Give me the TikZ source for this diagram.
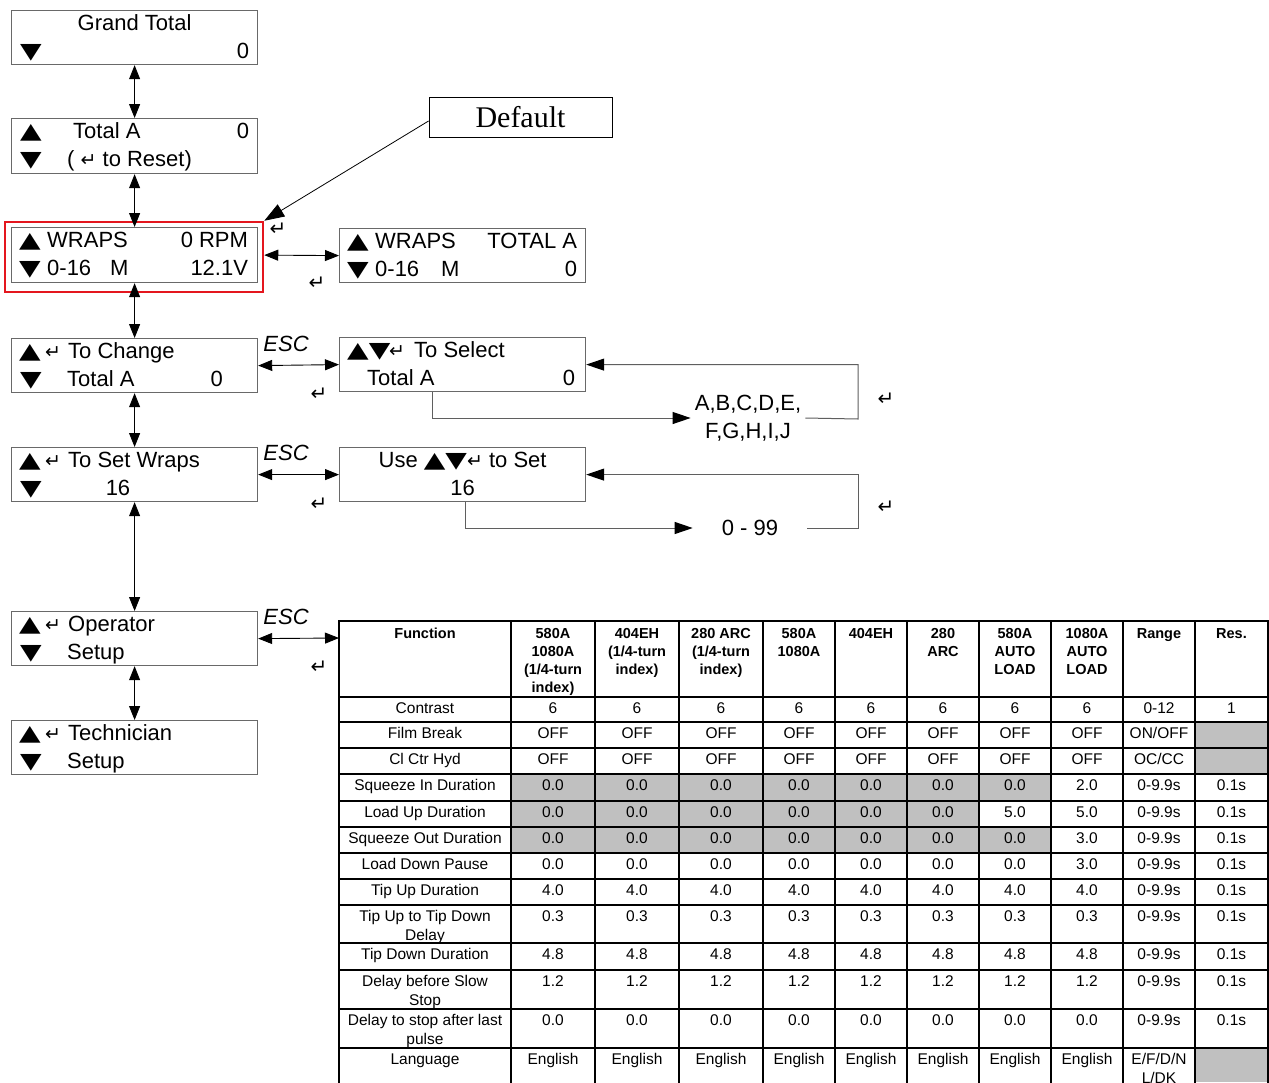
\documentclass[tikz,border=0pt]{standalone}
\usepackage{fontspec}
\setmainfont{Liberation Sans}
\newfontfamily\serifdef{Liberation Serif}
\newfontfamily\dejavu{DejaVu Sans}
\usetikzlibrary{arrows.meta,calc}
\definecolor{boxgray}{RGB}{105,105,105}
\definecolor{linegray}{RGB}{95,95,95}
\definecolor{redbox}{RGB}{228,22,30}
\definecolor{cellgray}{RGB}{192,192,192}
\newcommand\ent{{\dejavu\fontsize{19}{19}\selectfont ↵}}
\newcommand\upt{\scalebox{1.22}[0.95]{\dejavu\fontsize{23}{26}\selectfont ▲}}
\newcommand\dnt{\scalebox{1.22}[0.95]{\dejavu\fontsize{23}{26}\selectfont ▼}}
\newcommand\trow[2]{\foreach \t [count=\i] in {#2} {\pgfmathsetmacro\cx{{425,553,637,721,799,871,943,1015,1087,1159,1231.5}[\i-1]}\node[cell] at (\cx,#1+3) {\strut\t};}}
\newcommand\hrow[2]{\foreach \t [count=\i] in {#2} {\pgfmathsetmacro\cx{{425,553,637,721,799,871,943,1015,1087,1159,1231.5}[\i-1]}\node[hcell] at (\cx,#1+4.5) {\strut\t};}}
\begin{document}
\begin{tikzpicture}[x=1pt,y=-1pt,
  lcd/.style={draw=boxgray, line width=1.2pt, minimum width=246pt, minimum height=54pt, inner sep=0pt, anchor=north west},
  t/.style={font=\fontsize{22}{26}\selectfont, inner sep=0pt},
  esc/.style={font=\fontsize{22}{26}\selectfont\itshape, inner sep=0pt, anchor=base west},
  entn/.style={font=\dejavu\fontsize{20}{20}\selectfont, inner sep=0pt},
  dbl/.style={{Triangle[length=14pt,width=11pt]}-{Triangle[length=14pt,width=11pt]}, line width=0.9pt},
  gl/.style={draw=linegray, line width=1pt},
  gla/.style={gl, -{Triangle[length=18pt,width=12pt,color=black]}},
  cell/.style={font=\fontsize{15.5}{19}\selectfont, align=center, anchor=north, inner sep=0pt},
  hcell/.style={font=\fontsize{14.5}{18}\selectfont\bfseries, align=center, anchor=north, inner sep=0pt},
  tline/.style={line width=1.6pt, line cap=rect},
  ]
\useasboundingbox (0,0) rectangle (1269,1082);
\fill[white] (0,0) rectangle (1269,1082);

% ---- left column boxes
\node[lcd] (gt) at (11,10) {};
\node[lcd, minimum height=55pt] (ta) at (11,118) {};
\node[lcd, minimum height=55pt] (wr) at (11,227) {};
\node[lcd] (tc) at (11,338) {};
\node[lcd] (sw) at (11,447) {};
\node[lcd] (op) at (11,611) {};
\node[lcd] (te) at (11,720) {};
% ---- right boxes
\node[lcd] (wt) at (339,228) {};
\node[lcd] (ts) at (339,337) {};
\node[lcd] (us) at (339,447) {};

% red highlight
\node[draw=redbox, line width=2.5pt, minimum width=258pt, minimum height=70pt, inner sep=0pt] (red) at (134,257) {};

% ---- box texts
\node[t, anchor=base] at ($(gt.north)+(0,20.5)$) {Grand Total};
\node[t, anchor=base west] at ($(gt.north west)+(9,48)$) {\dnt};
\node[t, anchor=base east] at ($(gt.north east)+(-9,48)$) {0};

\node[t, anchor=base west] at ($(ta.north west)+(9,20.5)$) {\upt};
\node[t, anchor=base west] at ($(ta.north west)+(62,20.5)$) {Total A};
\node[t, anchor=base east] at ($(ta.north east)+(-9,20.5)$) {0};
\node[t, anchor=base west] at ($(ta.north west)+(9,48)$) {\dnt};
\node[t, anchor=base west] at ($(ta.north west)+(56,48)$) {( \ent{} to Reset)};

\node[t, anchor=base west] at ($(wr.north west)+(8,20.5)$) {\upt};
\node[t, anchor=base west] at ($(wr.north west)+(36,20.5)$) {WRAPS};
\node[t, anchor=base east] at ($(wr.north east)+(-10,20.5)$) {0 RPM};
\node[t, anchor=base west] at ($(wr.north west)+(8,48)$) {\dnt};
\node[t, anchor=base west] at ($(wr.north west)+(36,48)$) {0-16};
\node[t, anchor=base west] at ($(wr.north west)+(99,48)$) {M};
\node[t, anchor=base east] at ($(wr.north east)+(-10,48)$) {12.1V};

\node[t, anchor=base west] at ($(wt.north west)+(8,20.5)$) {\upt};
\node[t, anchor=base west] at ($(wt.north west)+(36,20.5)$) {WRAPS};
\node[t, anchor=base east] at ($(wt.north east)+(-9,20.5)$) {TOTAL A};
\node[t, anchor=base west] at ($(wt.north west)+(8,48)$) {\dnt};
\node[t, anchor=base west] at ($(wt.north west)+(36,48)$) {0-16};
\node[t, anchor=base west] at ($(wt.north west)+(102,48)$) {M};
\node[t, anchor=base east] at ($(wt.north east)+(-9,48)$) {0};

\node[t, anchor=base west] at ($(tc.north west)+(8,20.5)$) {\upt};
\node[t, anchor=base west] at ($(tc.north west)+(34,20.5)$) {\ent};
\node[t, anchor=base west] at ($(tc.north west)+(57,20.5)$) {To Change};
\node[t, anchor=base west] at ($(tc.north west)+(9,48)$) {\dnt};
\node[t, anchor=base west] at ($(tc.north west)+(56,48)$) {Total A};
\node[t, anchor=base east] at ($(tc.north west)+(212,48)$) {0};

\node[t, anchor=base west] at ($(ts.north west)+(8,20.5)$) {\upt\dnt};
\node[t, anchor=base west] at ($(ts.north west)+(50,20.5)$) {\ent};
\node[t, anchor=base west] at ($(ts.north west)+(75,20.5)$) {To Select};
\node[t, anchor=base west] at ($(ts.north west)+(28,48)$) {Total A};
\node[t, anchor=base east] at ($(ts.north east)+(-11,48)$) {0};

\node[t, anchor=base west] at ($(sw.north west)+(8,20.5)$) {\upt};
\node[t, anchor=base west] at ($(sw.north west)+(34,20.5)$) {\ent};
\node[t, anchor=base west] at ($(sw.north west)+(57,20.5)$) {To Set Wraps};
\node[t, anchor=base west] at ($(sw.north west)+(9,48)$) {\dnt};
\node[t, anchor=base] at ($(sw.north west)+(107,48)$) {16};

\node[t, anchor=base] at ($(us.north)+(0,20.5)$) {Use \upt\dnt\ent{} to Set};
\node[t, anchor=base] at ($(us.north)+(0,48)$) {16};

\node[t, anchor=base west] at ($(op.north west)+(8,20.5)$) {\upt};
\node[t, anchor=base west] at ($(op.north west)+(34,20.5)$) {\ent};
\node[t, anchor=base west] at ($(op.north west)+(57,20.5)$) {Operator};
\node[t, anchor=base west] at ($(op.north west)+(9,48)$) {\dnt};
\node[t, anchor=base west] at ($(op.north west)+(56,48)$) {Setup};

\node[t, anchor=base west] at ($(te.north west)+(8,20.5)$) {\upt};
\node[t, anchor=base west] at ($(te.north west)+(34,20.5)$) {\ent};
\node[t, anchor=base west] at ($(te.north west)+(57,20.5)$) {Technician};
\node[t, anchor=base west] at ($(te.north west)+(9,48)$) {\dnt};
\node[t, anchor=base west] at ($(te.north west)+(56,48)$) {Setup};

% ---- vertical connectors
\draw[dbl] (gt.south) -- (ta.north);
\draw[dbl] (ta.south) -- (wr.north);
\draw[dbl] (wr.south) -- (tc.north);
\draw[dbl] (tc.south) -- (sw.north);
\draw[dbl] (sw.south) -- (op.north);
\draw[dbl] (op.south) -- (te.north);

% ---- horizontal connectors
\coordinate (tbl) at (339,638);
\draw[dbl] (red.east |- wr.east) -- (wt.west);
\draw[dbl] (tc.east) -- (ts.west);
\draw[dbl] (sw.east) -- (us.west);
\draw[dbl] (op.east) -- (tbl);

\node[esc] (esc1) at ($(tc.north east)+(5,13)$) {ESC};
\node[esc] (esc2) at ($(sw.north east)+(5,13)$) {ESC};
\node[esc] (esc3) at ($(op.north east)+(5,13)$) {ESC};

% enter glyphs
\node[entn] (e1) at (278,229) {↵};
\node[entn] (e2) at (317,283) {↵};
\node[entn] (e3) at (319,394) {↵};
\node[entn] (e4) at (319,504) {↵};
\node[entn] (e5) at (319,667) {↵};
\node[entn] (e6) at (886,399) {↵};
\node[entn] (e7) at (886,507) {↵};

% ---- Default callout
\node[draw=black, line width=0.9pt, minimum width=183pt, minimum height=40pt, inner sep=0pt,
      font=\serifdef\fontsize{30}{32}\selectfont] (def) at (520.5,117) {Default};
\draw[line width=0.8pt, -{Triangle[length=20pt,width=14pt]}] ($(def.west)+(0,4)$) -- (red.north east);

% ---- loops
\node[t, align=center, font=\fontsize{22}{28}\selectfont, inner xsep=4pt] (abc) at (748,418) {A,B,C,D,E,\\F,G,H,I,J};
\coordinate (c1) at (858,419);
\draw[gla] ($(ts.south west)+(93,0)$) |- (abc.west);
\draw[gla] (abc.east) -- (c1) |- (ts.east);

\node[t, inner xsep=29pt] (r99) at (750,528) {0 - 99};
\coordinate (c2) at (858,528);
\draw[gla] ($(us.south west)+(126,0)$) |- (r99.west);
\draw[gla] (r99.east) -- (c2) |- (us.east);

% ---- table
\fill[cellgray] (1195,722) rectangle (1268,774);
\fill[cellgray] (511,774) rectangle (1051,801);
\fill[cellgray] (511,801) rectangle (979,827);
\fill[cellgray] (511,827) rectangle (1051,853);
\fill[cellgray] (1195,1048) rectangle (1268,1082);
\foreach \x in {339,511,595,679,763,835,907,979,1051,1123,1195,1268} \draw[tline] (\x,621) -- (\x,1082);
\foreach \y in {621,697,722,748,774,801,827,853,879,905,943,970,1009,1048} \draw[tline] (339,\y) -- (1268,\y);

\hrow{621}{Function,{580A\\1080A\\(1/4-turn\\index)},{404EH\\(1/4-turn\\index)},{280 ARC\\(1/4-turn\\index)},{580A\\1080A},404EH,{280\\ARC},{580A\\AUTO\\LOAD},{1080A\\AUTO\\LOAD},Range,Res.}
\trow{697}{Contrast,6,6,6,6,6,6,6,6,0-12,1}
\trow{722}{Film Break,OFF,OFF,OFF,OFF,OFF,OFF,OFF,OFF,ON/OFF}
\trow{748}{Cl Ctr Hyd,OFF,OFF,OFF,OFF,OFF,OFF,OFF,OFF,OC/CC}
\trow{774}{Squeeze In Duration,0.0,0.0,0.0,0.0,0.0,0.0,0.0,2.0,0-9.9s,0.1s}
\trow{801}{Load Up Duration,0.0,0.0,0.0,0.0,0.0,0.0,5.0,5.0,0-9.9s,0.1s}
\trow{827}{Squeeze Out Duration,0.0,0.0,0.0,0.0,0.0,0.0,0.0,3.0,0-9.9s,0.1s}
\trow{853}{Load Down Pause,0.0,0.0,0.0,0.0,0.0,0.0,0.0,3.0,0-9.9s,0.1s}
\trow{879}{Tip Up Duration,4.0,4.0,4.0,4.0,4.0,4.0,4.0,4.0,0-9.9s,0.1s}
\trow{905}{{Tip Up to Tip Down\\Delay},0.3,0.3,0.3,0.3,0.3,0.3,0.3,0.3,0-9.9s,0.1s}
\trow{943}{Tip Down Duration,4.8,4.8,4.8,4.8,4.8,4.8,4.8,4.8,0-9.9s,0.1s}
\trow{970}{{Delay before Slow\\Stop},1.2,1.2,1.2,1.2,1.2,1.2,1.2,1.2,0-9.9s,0.1s}
\trow{1009}{{Delay to stop after last\\pulse},0.0,0.0,0.0,0.0,0.0,0.0,0.0,0.0,0-9.9s,0.1s}
\trow{1048}{Language,English,English,English,English,English,English,English,English,{E/F/D/N\\L/DK}}
\end{tikzpicture}
\end{document}
